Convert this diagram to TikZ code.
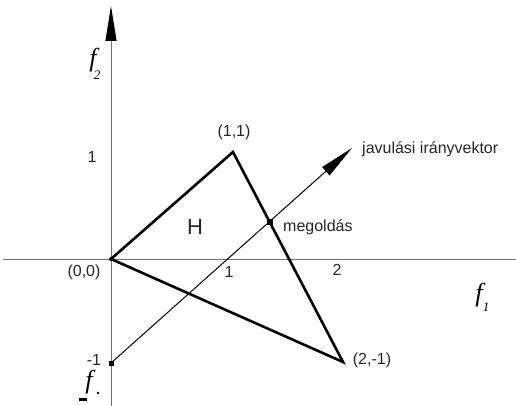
\documentclass[tikz,border=0pt]{standalone}
\usepackage{fontspec}
\setmainfont{Liberation Sans}
\newfontfamily\timesf{Liberation Serif}
\usetikzlibrary{arrows.meta}
\begin{document}
\begin{tikzpicture}[x=1pt,y=-1pt,
  axis/.style={draw=black!55, line width=1pt},
  tri/.style={draw=black, line width=2.6pt, line join=miter},
  dirline/.style={draw=black, line width=1pt},
  lbl/.style={font=\fontsize{16}{19}\selectfont, text=black!85, inner sep=0pt},
  flbl/.style={font=\fontsize{26}{30}\timesf\itshape, inner sep=0pt},
  sublbl/.style={font=\fontsize{13}{15}\timesf\itshape, inner sep=0pt},
  bigarrow/.style={-{Triangle[length=35pt,width=11pt,color=black]}},
  mark dot/.style={fill=black, minimum size=5pt, inner sep=0pt}
]
\useasboundingbox (0,0) rectangle (516,406);
% points
\coordinate (xl) at (3,259);
\coordinate (xr) at (516,259);
\coordinate (yb) at (111,406);
\coordinate (yt) at (111,6);
\coordinate (O) at (111,259);
\coordinate (A) at (233,152);
\coordinate (B) at (343,362);
\coordinate (M) at (111,363);
\coordinate (T) at (352,148);
% axes
\draw[axis] (xl) -- (xr);
\draw[axis, bigarrow] (yb) -- (yt);
% triangle H
\draw[tri] (O) -- (A) -- (B) -- cycle;
% improvement direction
\draw[dirline, bigarrow] (M) -- (T);
\node[mark dot, rectangle] (m) at (M) {};
\node[mark dot, circle, minimum size=4pt] (o) at (O) {};
\node[mark dot, rectangle, minimum size=6pt] (s) at (269.5,222) {};
% labels
\node[lbl] (l00) at (84,272) {(0,0)};
\node[lbl] (lx1) at (229,272) {1};
\node[lbl] (lx2) at (337,270) {2};
\node[lbl] (ly1) at (92,157) {1};
\node[lbl] (lym1) at (94,360) {-1};
\node[lbl] (l11) at (234,132) {(1,1)};
\node[lbl] (l2m1) at (372,360) {(2,-1)};
\node[lbl, anchor=west] (lmeg) at (283,227) {megoldás};
\node[lbl, anchor=west] (ljav) at (362,149) {javulási irányvektor};
\node[font=\fontsize{22}{26}\selectfont, inner sep=0pt, text=black!85] (H) at (195,227) {H};
% axis names
\node[flbl] (f2) at (93,60) {f};
\node[sublbl] (f2s) at (97,75) {2};
\node[flbl] (f1) at (479,295) {f};
\node[sublbl] (f1s) at (486,307) {1};
\node[flbl] (fm) at (89,382) {f};
\fill (98,393) circle (1.3pt);
\fill (79,398) rectangle (87,400.5);
\end{tikzpicture}
\end{document}
